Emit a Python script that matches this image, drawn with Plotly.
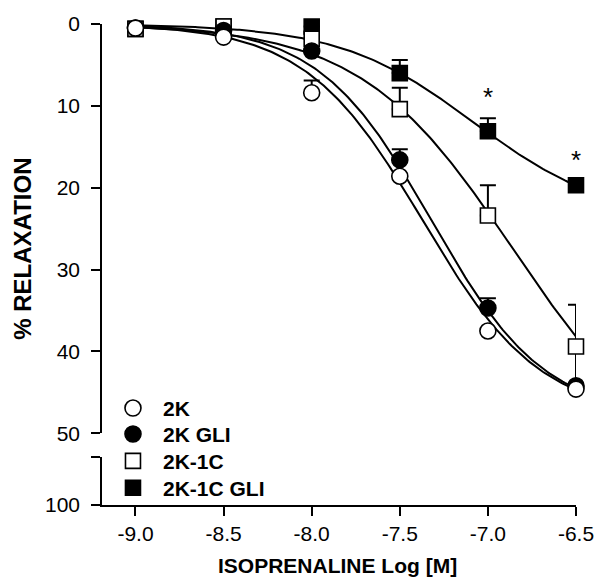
import numpy as np
import plotly.graph_objects as go

# ---- data ----
log_conc = [-9.0, -8.5, -8.0, -7.5, -7.0, -6.5]
series_names = ["2K", "2K GLI", "2K-1C", "2K-1C GLI"]
relax_2k = [0.5, 1.6, 8.4, 18.6, 37.5, 44.6]
relax_2k_gli = [0.5, 0.8, 3.3, 16.6, 34.7, 44.2]
relax_2k1c = [0.6, 0.3, 1.8, 10.4, 23.4, 39.4]
relax_2k1c_gli = [0.6, 0.3, 0.3, 6.0, 13.1, 19.7]
sem_2k = [0, 0, 1.5, 0, 0, 0]
sem_2k_gli = [0, 0, 0, 1.3, 1.2, 0]
sem_2k1c = [0, 0, 0, 2.6, 3.7, 5.1]
sem_2k1c_gli = [0, 0, 0, 1.6, 1.6, 0]
sem_2k1c_low_x = [-6.5]
sem_2k1c_low_y = [39.4]
sem_2k1c_low = [4.6]
# fitted sigmoid parameters (top, logEC50, hill)
fit_2k = (48.0, -7.37, 1.3)
fit_2k_gli = (48.0, -7.32, 1.35)
fit_2k1c = (55.0, -6.857, 1.0)
fit_2k1c_gli = (24.0, -7.082, 1.14)
star_x = [-7.0, -6.5]
star_y = [8.9, 16.6]
x_ticks = [-9.0, -8.5, -8.0, -7.5, -7.0, -6.5]
x_tick_labels = ["-9.0", "-8.5", "-8.0", "-7.5", "-7.0", "-6.5"]
y_ticks_top = [0, 10, 20, 30, 40, 50]
y_ticks_low = [75, 100]
y_tick_labels_low = ["", "100"]

FONT = "Liberation Sans, Arial, sans-serif"
xs = np.linspace(-9.0, -6.5, 200)

# pixel geometry helpers (plot area: left 102, right 586, top 22, bottom 505)
PL, PR, PT, PB = 102, 586, 22, 505


def px_x(p):
    return (p - PL) / (PR - PL)


def px_y(p):
    return (PB - p) / (PB - PT)


def sigmoid(x, p):
    top, ec, h = p
    return top / (1 + 10 ** ((ec - x) * h))


fig = go.Figure()

# draw order: squares first, circles last
specs = [
    ("2K-1C GLI", relax_2k1c_gli, sem_2k1c_gli, fit_2k1c_gli, "black", 15, "legend4", 488),
    ("2K-1C", relax_2k1c, sem_2k1c, fit_2k1c, "white", 15, "legend3", 461),
    ("2K GLI", relax_2k_gli, sem_2k_gli, fit_2k_gli, "black", 16, "legend2", 434),
    ("2K", relax_2k, sem_2k, fit_2k, "white", 16, "legend", 408),
]
symbols = {"2K-1C GLI": "square", "2K-1C": "square", "2K GLI": "circle", "2K": "circle"}

for name, ys, sem, fit, fill, size, leg, ly in specs:
    fig.add_trace(go.Scatter(x=xs, y=sigmoid(xs, fit), mode="lines",
                             line=dict(color="black", width=2),
                             showlegend=False, hoverinfo="skip", cliponaxis=False))

fig.add_trace(go.Scatter(x=sem_2k1c_low_x, y=sem_2k1c_low_y, mode="markers",
                         marker=dict(size=1, opacity=0), showlegend=False,
                         error_y=dict(type="data", symmetric=False, array=sem_2k1c_low,
                                      arrayminus=[0], color="black", thickness=2, width=0),
                         cliponaxis=False))

legend_layout = {}
for name, ys, sem, fit, fill, size, leg, ly in specs:
    fig.add_trace(go.Scatter(
        x=log_conc, y=ys, mode="markers", name=f"<b>{name}</b>", legend=leg,
        marker=dict(symbol=symbols[name], size=size, color=fill,
                    line=dict(color="black", width=1.6)),
        error_y=dict(type="data", symmetric=False, array=[0] * len(sem), arrayminus=sem,
                     color="black", thickness=2, width=8),
        cliponaxis=False))
    legend_layout[leg] = dict(x=px_x(103), y=px_y(ly), xanchor="left", yanchor="middle",
                              font=dict(family=FONT, size=21, color="black"),
                              bgcolor="rgba(0,0,0,0)", itemwidth=50)

# invisible anchor trace so the lower (broken) y-axis segment is drawn
fig.add_trace(go.Scatter(x=[x_ticks[0]], y=[y_ticks_low[-1]], yaxis="y2", mode="markers",
                         marker=dict(size=1, opacity=0), showlegend=False, hoverinfo="skip"))

for sx, sy in zip(star_x, star_y):
    fig.add_annotation(x=sx, y=sy, xref="x", yref="y", text="*", showarrow=False,
                       font=dict(family=FONT, size=26, color="black"), yanchor="middle")

fig.add_annotation(text="<b>% RELAXATION</b>", xref="paper", yref="paper",
                   x=px_x(20), y=px_y(248), textangle=-90, xanchor="center", yanchor="middle",
                   showarrow=False, font=dict(family=FONT, size=24, color="black"))
fig.add_annotation(text="<b>ISOPRENALINE Log [M]</b>", xref="paper", yref="paper",
                   x=px_x(342), y=px_y(566), xanchor="center", yanchor="middle",
                   showarrow=False, font=dict(family=FONT, size=21, color="black"))

axis_common = dict(showline=True, linecolor="black", linewidth=1.6, ticks="outside",
                   ticklen=9, tickwidth=1.6, tickcolor="black", showgrid=False,
                   zeroline=False, tickfont=dict(family=FONT, size=21, color="black"))

fig.update_layout(
    width=606, height=578,
    margin=dict(l=PL, r=606 - PR, t=PT, b=578 - PB),
    plot_bgcolor="white", paper_bgcolor="white",
    xaxis=dict(range=[-9.19, -6.5], tickvals=x_ticks, ticktext=x_tick_labels,
               anchor="y2", domain=[0, 1], **axis_common),
    yaxis=dict(range=[50, 0], tickvals=y_ticks_top, domain=[px_y(433), 1],
               anchor="x", ticklabelstandoff=7, **axis_common),
    yaxis2=dict(range=[100, 75], tickvals=y_ticks_low, ticktext=y_tick_labels_low,
                domain=[0, px_y(457)], anchor="x", ticklabelstandoff=7, **axis_common),
    showlegend=True,
    **legend_layout,
)

fig.write_html("out.html")
